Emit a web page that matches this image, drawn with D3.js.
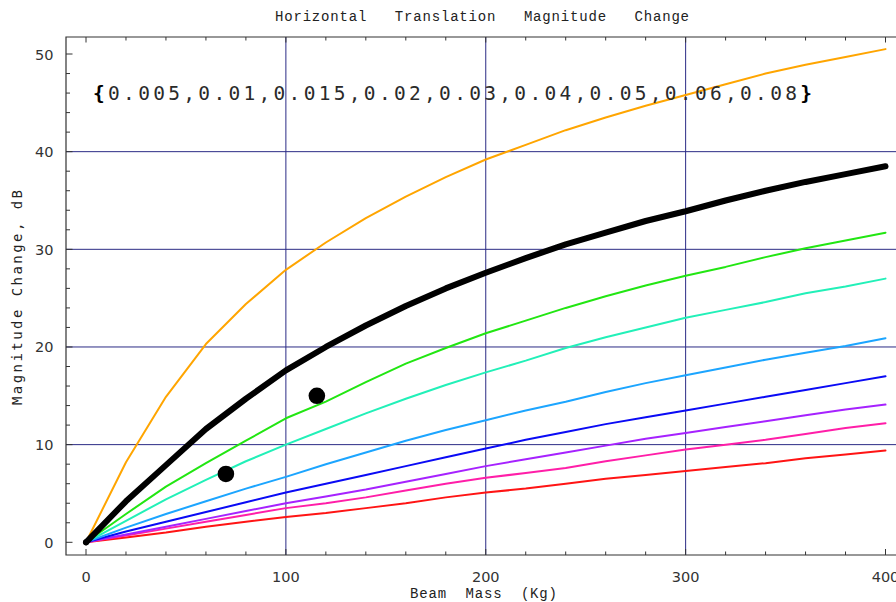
<!DOCTYPE html>
<html>
<head>
<meta charset="utf-8">
<script src="https://cdn.jsdelivr.net/npm/d3@7"></script>
<style>
  body { margin: 0; background: #fff; }
  svg { display: block; }
</style>
</head>
<body>
<div id="chartArea"></div>
<script>
// beam mass steps (Kg)
const mass = [0, 20, 40, 60, 80, 100, 120, 140, 160, 180, 200, 220, 240, 260, 280, 300, 320, 340, 360, 380, 400];

// one curve per damping value (dB)
const orange = [0, 8.2, 14.9, 20.3, 24.4, 27.9, 30.7, 33.2, 35.4, 37.4, 39.2, 40.7, 42.2, 43.5, 44.7, 45.8, 46.9, 48.0, 48.9, 49.7, 50.5];
const black  = [0, 4.2, 7.9, 11.6, 14.7, 17.6, 20.0, 22.2, 24.2, 26.0, 27.6, 29.1, 30.5, 31.7, 32.9, 33.9, 35.0, 36.0, 36.9, 37.7, 38.5];
const green  = [0, 2.9, 5.7, 8.1, 10.4, 12.7, 14.4, 16.4, 18.3, 19.9, 21.4, 22.7, 24.0, 25.2, 26.3, 27.3, 28.2, 29.2, 30.1, 30.9, 31.7];
const aqua   = [0, 2.2, 4.4, 6.4, 8.3, 10.0, 11.6, 13.2, 14.7, 16.1, 17.4, 18.6, 19.9, 21.0, 22.0, 23.0, 23.8, 24.6, 25.5, 26.2, 27.0];
const sky    = [0, 1.5, 2.9, 4.2, 5.5, 6.7, 8.0, 9.2, 10.4, 11.5, 12.5, 13.5, 14.4, 15.4, 16.3, 17.1, 17.9, 18.7, 19.4, 20.1, 20.9];
const blue   = [0, 1.1, 2.1, 3.1, 4.1, 5.1, 6.0, 6.9, 7.8, 8.7, 9.6, 10.5, 11.3, 12.1, 12.8, 13.5, 14.2, 14.9, 15.6, 16.3, 17.0];
const purple = [0, 0.8, 1.6, 2.4, 3.2, 4.0, 4.7, 5.4, 6.2, 7.0, 7.8, 8.5, 9.2, 9.9, 10.6, 11.2, 11.8, 12.4, 13.0, 13.6, 14.1];
const pink   = [0, 0.7, 1.4, 2.1, 2.8, 3.5, 4.0, 4.6, 5.3, 6.0, 6.6, 7.1, 7.6, 8.3, 8.9, 9.5, 10.0, 10.5, 11.1, 11.7, 12.2];
const red    = [0, 0.5, 1.0, 1.6, 2.1, 2.6, 3.0, 3.5, 4.0, 4.6, 5.1, 5.5, 6.0, 6.5, 6.9, 7.3, 7.7, 8.1, 8.6, 9.0, 9.4];

// measured points
const ptMass = [70, 115.5];
const ptDb   = [7.0, 15.0];

const xTicks = [0, 100, 200, 300, 400];
const yTicks = [0, 10, 20, 30, 40, 50];
const dampingText = "0.005,0.01,0.015,0.02,0.03,0.04,0.05,0.06,0.08";

const W = 896, H = 602;
const frameL = 66, frameT = 37, frameB = 555;

const svg = d3.select("#chartArea").append("svg")
  .attr("width", W)
  .attr("height", H);

const x = d3.scaleLinear().domain([0, 400]).range([86, 885.5]);
const y = d3.scaleLinear().domain([0, 50]).range([542.3, 54]);

// grid
svg.append("g").selectAll("line")
  .data([10, 20, 30, 40])
  .enter().append("line")
    .attr("x1", frameL).attr("x2", W)
    .attr("y1", d => y(d)).attr("y2", d => y(d))
    .attr("stroke", "#2b2b85").attr("stroke-width", 1);

svg.append("g").selectAll("line")
  .data([100, 200, 300])
  .enter().append("line")
    .attr("x1", d => x(d)).attr("x2", d => x(d))
    .attr("y1", frameT).attr("y2", frameB)
    .attr("stroke", "#2b2b85").attr("stroke-width", 1);

// frame
const frameColor = "#333";
svg.append("path")
  .attr("d", `M${W},${frameT}H${frameL}V${frameB}H${W}`)
  .attr("fill", "none")
  .attr("stroke", frameColor)
  .attr("stroke-width", 1.2);

// ticks (inside the frame)
const xMinor = d3.range(0, 401, 20);
svg.append("g").selectAll("line")
  .data(xMinor)
  .enter().append("line")
    .attr("x1", d => x(d)).attr("x2", d => x(d))
    .attr("y1", frameB).attr("y2", d => frameB - (d % 100 === 0 ? 6 : 3.5))
    .attr("stroke", frameColor);
svg.append("g").selectAll("line")
  .data(xMinor)
  .enter().append("line")
    .attr("x1", d => x(d)).attr("x2", d => x(d))
    .attr("y1", frameT).attr("y2", d => frameT + (d % 100 === 0 ? 5.5 : 3.5))
    .attr("stroke", frameColor);

const yMinor = d3.range(0, 51, 2);
svg.append("g").selectAll("line")
  .data(yMinor)
  .enter().append("line")
    .attr("x1", frameL).attr("x2", d => frameL + (d % 10 === 0 ? 6.5 : 4))
    .attr("y1", d => y(d)).attr("y2", d => y(d))
    .attr("stroke", frameColor);

// tick labels
svg.append("g").selectAll("text")
  .data(xTicks)
  .enter().append("text")
    .attr("x", d => x(d))
    .attr("y", 582)
    .attr("text-anchor", "middle")
    .attr("font-family", "DejaVu Sans, sans-serif")
    .attr("font-size", "14.5px")
    .attr("fill", "#333")
    .text(d => d);

svg.append("g").selectAll("text")
  .data(yTicks)
  .enter().append("text")
    .attr("x", 53.5)
    .attr("y", d => y(d) + 5.5)
    .attr("text-anchor", "end")
    .attr("font-family", "DejaVu Sans, sans-serif")
    .attr("font-size", "14.5px")
    .attr("fill", "#333")
    .text(d => d);

// curves
const series = [
  { vals: red,    color: "#ff1414", w: 2 },
  { vals: pink,   color: "#ff1ea8", w: 2 },
  { vals: purple, color: "#a622ff", w: 2 },
  { vals: blue,   color: "#0a0af5", w: 2 },
  { vals: sky,    color: "#1ca5ff", w: 2 },
  { vals: aqua,   color: "#22f0b8", w: 2 },
  { vals: green,  color: "#22e612", w: 2 },
  { vals: orange, color: "#ffa500", w: 2 },
  { vals: black,  color: "#000000", w: 6 }
];

const line = d3.line()
  .x((d, i) => x(mass[i]))
  .y(d => y(d));

svg.append("g").selectAll("path")
  .data(series)
  .enter().append("path")
    .attr("d", d => line(d.vals))
    .attr("fill", "none")
    .attr("stroke", d => d.color)
    .attr("stroke-width", d => d.w)
    .attr("stroke-linejoin", "round")
    .attr("stroke-linecap", "round");

// small origin marker
svg.append("circle")
  .attr("cx", x(0)).attr("cy", y(0))
  .attr("r", 3).attr("fill", "#000");

// measured dots
svg.append("g").selectAll("circle")
  .data(ptMass)
  .enter().append("circle")
    .attr("cx", d => x(d))
    .attr("cy", (d, i) => y(ptDb[i]))
    .attr("r", 8.3)
    .attr("fill", "#000");

// damping list annotation
const note = svg.append("text")
  .attr("x", 93)
  .attr("y", 100)
  .attr("font-family", "DejaVu Sans Mono, monospace")
  .attr("font-size", "19.5px")
  .attr("fill", "#2a2a2a")
  .attr("textLength", 719)
  .attr("lengthAdjust", "spacing");
note.append("tspan").attr("font-weight", "bold").attr("fill", "#000").text("{");
note.append("tspan").text(dampingText);
note.append("tspan").attr("font-weight", "bold").attr("fill", "#000").text("}");

// titles
svg.append("text")
  .attr("x", 275)
  .attr("y", 21)
  .attr("font-family", "Liberation Mono, Courier New, monospace")
  .attr("font-size", "14px")
  .attr("fill", "#222")
  .attr("textLength", 414)
  .attr("lengthAdjust", "spacing")
  .style("white-space", "pre")
  .text("Horizontal   Translation   Magnitude   Change");

svg.append("text")
  .attr("x", 410)
  .attr("y", 598)
  .attr("font-family", "Liberation Mono, Courier New, monospace")
  .attr("font-size", "14px")
  .attr("fill", "#222")
  .attr("textLength", 147)
  .attr("lengthAdjust", "spacing")
  .style("white-space", "pre")
  .text("Beam  Mass  (Kg)");

svg.append("text")
  .attr("transform", "translate(22,405) rotate(-90)")
  .attr("font-family", "DejaVu Sans Mono, monospace")
  .attr("font-size", "14px")
  .attr("fill", "#222")
  .attr("textLength", 215)
  .attr("lengthAdjust", "spacing")
  .style("white-space", "pre")
  .text("Magnitude Change, dB");
</script>
</body>
</html>
